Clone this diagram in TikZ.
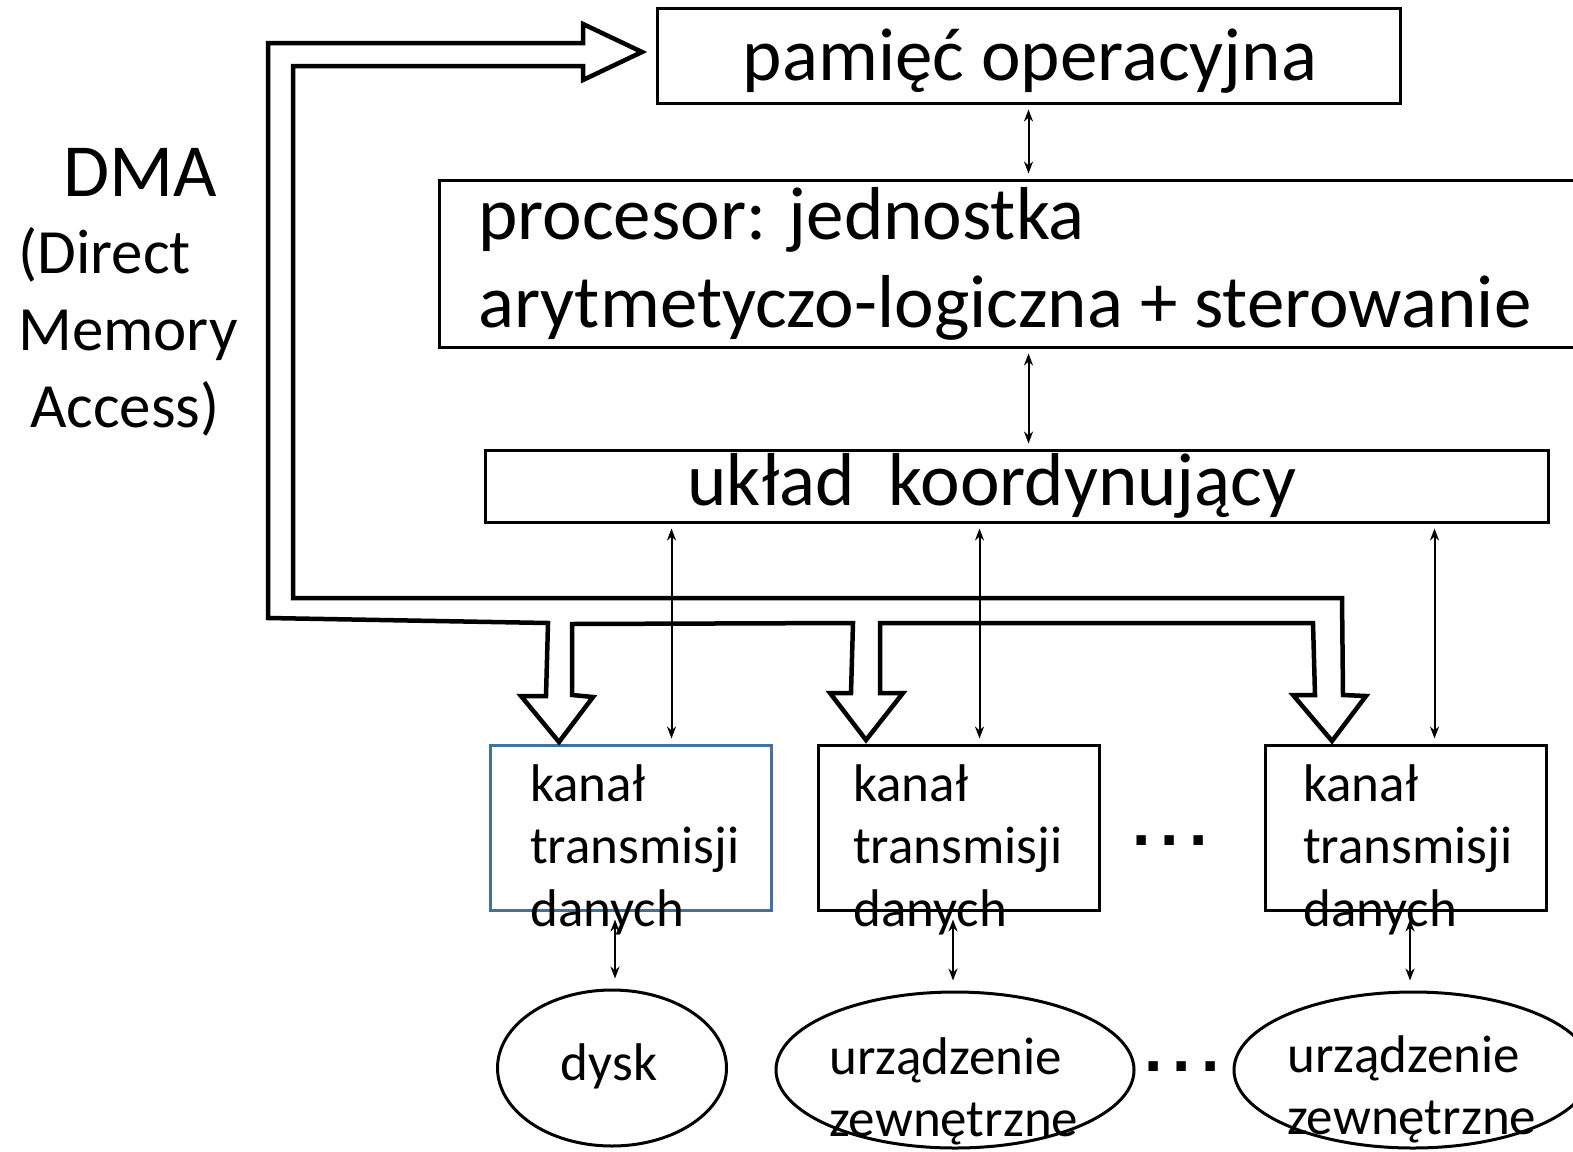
\documentclass[tikz,border=0pt]{standalone}
\usepackage{fontspec}
\setmainfont{Carlito}
\newfontfamily\kropfont{Liberation Sans}
\usetikzlibrary{arrows.meta, calc, shapes.geometric, positioning}
\definecolor{kanblue}{HTML}{41719C}
\tikzset{
  >={Stealth[length=12pt, width=9pt]},
  every picture/.style={line join=miter},
  blok/.style={draw, line width=3pt, inner sep=0pt},
  urz/.style={draw, ellipse, line width=3pt, inner sep=0pt},
  duzy/.style={font=\fontsize{75}{88}\selectfont, inner sep=0pt, align=left},
  maly/.style={font=\fontsize{53}{62.5}\selectfont, inner sep=0pt, align=left},
  dma/.style={font=\fontsize{63}{77}\selectfont, inner sep=0pt, align=left},
  kropki/.style={font=\fontsize{66}{66}\kropfont\bfseries, inner sep=0pt, anchor=base west},
  dwustr/.style={<->, line width=2pt, shorten <=5pt, shorten >=5pt},
  pusta/.style={line width=4.5pt, line join=miter},
}
\begin{document}
\begin{tikzpicture}[x=1pt, y=-1pt]
  \useasboundingbox (0,0) rectangle (1573,1151);
  % bloki
  \node[blok, minimum width=743pt, minimum height=95pt] (pam) at (1028.5,55.5) {};
  \node[duzy, anchor=base] (pamt) at (1030,80) {pamięć operacyjna};
  \node[blok, minimum width=1150pt, minimum height=167pt] (proc) at (1014,263.5) {};
  \node[duzy, anchor=north west] (proct) at (478,187) {procesor: jednostka\\arytmetyczo-logiczna + sterowanie};
  \node[blok, minimum width=1063pt, minimum height=72pt] (uk) at (1016.5,486) {};
  \node[duzy, anchor=base] (ukt) at (992,505) {układ\ \ koordynujący};
  % kanaly
  \node[blok, draw=kanblue, minimum width=281pt, minimum height=165pt] (k1) at (630.5,827.5) {};
  \node[blok, minimum width=281pt, minimum height=165pt] (k2) at (958.5,827.5) {};
  \node[blok, minimum width=281pt, minimum height=165pt] (k3) at (1405.5,827.5) {};
  \node[maly, anchor=north west] (k1t) at (530,764) {kanał\\transmisji\\danych};
  \node[maly, anchor=north west] (k2t) at (853,764) {kanał\\transmisji\\danych};
  \node[maly, anchor=north west] (k3t) at (1303,764) {kanał\\transmisji\\danych};
  \node[kropki] (kr1) at (1132,845) {.\hspace{10.2pt}.\hspace{10.2pt}.};
  % urzadzenia
  \node[urz, minimum width=229pt, minimum height=156pt] (dysk) at (612,1068) {};
  \node[urz, minimum width=358pt, minimum height=156pt] (u1) at (955,1070) {};
  \node[urz, minimum width=358pt, minimum height=156pt] (u2) at (1413,1070) {};
  \node[maly, anchor=base] (dyskt) at (609,1080) {dysk};
  \node[maly, anchor=north west] (u1t) at (829,1037) {urządzenie\\zewnętrzne};
  \node[maly, anchor=north west] (u2t) at (1287,1035) {urządzenie\\zewnętrzne};
  \node[kropki] (kr2) at (1144,1071) {.\hspace{10.2pt}.\hspace{10.2pt}.};
  % DMA
  \node[dma, anchor=north west] (dmat) at (18,148) {\hspace{45pt}{\fontsize{75}{77}\selectfont DMA}\\(Direct\\Memory\\\hspace{12pt}Access)};
  % polaczenia
  \draw[dwustr] (pam.south) -- (pam.south |- proc.north);
  \draw[dwustr] (pam.south |- proc.south) -- (pam.south |- uk.north);
  \draw[dwustr] ([xshift=41pt]k1.north |- uk.south) -- ([xshift=41pt]k1.north);
  \draw[dwustr] ([xshift=21pt]k2.north |- uk.south) -- ([xshift=21pt]k2.north);
  \draw[dwustr] ([xshift=29pt]k3.north |- uk.south) -- ([xshift=29pt]k3.north);
  \draw[<->, line width=2pt, shorten <=8pt, shorten >=10pt] ([xshift=3pt]dysk.north |- k1.south) -- ([xshift=3pt]dysk.north);
  \draw[<->, line width=2pt, shorten <=8pt, shorten >=10pt] ([xshift=-2pt]u1.north |- k2.south) -- ([xshift=-2pt]u1.north);
  \draw[<->, line width=2pt, shorten <=8pt, shorten >=10pt] ([xshift=-3pt]u2.north |- k3.south) -- ([xshift=-3pt]u2.north);
  % strzalka DMA
  \draw[pusta] (642,52) -- (583,80) -- (583,66) -- (293,66) -- (293,598) -- (1342,598)
    -- (1343,695) -- (1366,696) -- (1332,741) -- (1293,695) -- (1315,695) -- (1313,623)
    -- (880,623) -- (880,693) -- (903,693) -- (866,740) -- (830,693) -- (851,693) -- (853,623)
    -- (572,624) -- (572,695) -- (593,697) -- (559,742) -- (521,696) -- (546,696) -- (548,623)
    -- (268,618) -- (268,43) -- (583,43) -- (583,24) -- cycle;
\end{tikzpicture}
\end{document}
